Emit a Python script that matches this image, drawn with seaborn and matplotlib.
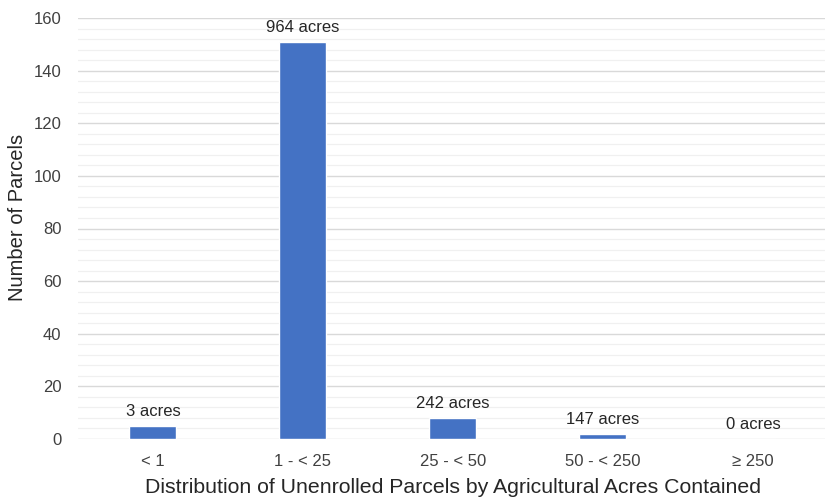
import matplotlib
matplotlib.use("Agg")
import matplotlib.pyplot as plt
from matplotlib.ticker import MultipleLocator
import seaborn as sns
import pandas as pd

# Parcel size classes and counts
categories = ["< 1", "1 - < 25", "25 - < 50", "50 - < 250", "\u2265 250"]
parcel_counts = [5, 151, 8, 2, 0]
acre_labels = ["3 acres", "964 acres", "242 acres", "147 acres", "0 acres"]

df = pd.DataFrame({"category": categories, "parcels": parcel_counts})

sns.set_theme(style="white")
plt.rcParams["font.family"] = ["Liberation Sans", "DejaVu Sans"]

fig = plt.figure(figsize=(8.25, 5.0), dpi=100)
ax = fig.add_axes([0.0945, 0.122, 0.909, 0.842])

sns.barplot(data=df, x="category", y="parcels", color="#4472C4",
            saturation=1, width=0.313, ax=ax, zorder=3)

ax.set_ylim(0, 160)
ax.set_xlim(-0.5, 4.5)
ax.yaxis.set_major_locator(MultipleLocator(20))
ax.yaxis.set_minor_locator(MultipleLocator(4))
ax.grid(axis="y", which="major", color="#d9d9d9", linewidth=1.0, zorder=0)
ax.grid(axis="y", which="minor", color="#f0f0f0", linewidth=0.9, zorder=0)
ax.set_axisbelow(True)
for s in ax.spines.values():
    s.set_visible(False)

ax.tick_params(axis="both", which="both", length=0, labelsize=12,
               labelcolor="#404040")
ax.tick_params(axis="x", pad=11)
ax.tick_params(axis="y", pad=12)

for i, (v, lab) in enumerate(zip(parcel_counts, acre_labels)):
    ax.annotate(lab, xy=(i, v), xytext=(0, 5), textcoords="offset points",
                ha="center", va="bottom", fontsize=12, color="#262626")

ax.set_xlabel("Distribution of Unenrolled Parcels by Agricultural Acres Contained",
              fontsize=15.3, color="#262626", labelpad=6)
ax.set_ylabel("Number of Parcels", fontsize=14.5, color="#262626")
ax.yaxis.set_label_coords(-0.068, 0.527)

fig.savefig("out.png", dpi=100)
